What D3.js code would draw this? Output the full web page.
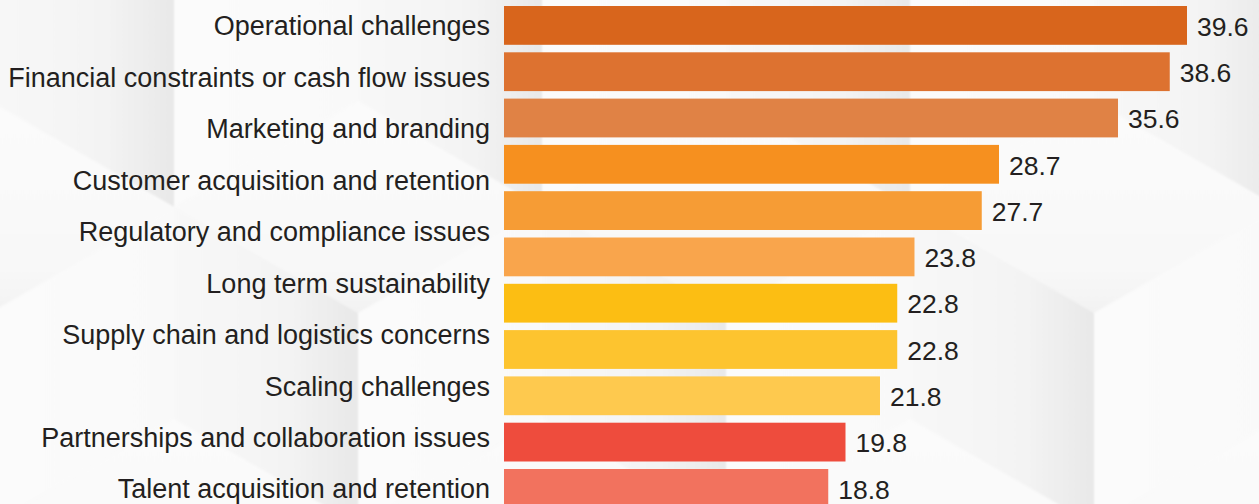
<!DOCTYPE html>
<html>
<head>
<meta charset="utf-8">
<script src="https://cdn.jsdelivr.net/npm/d3@7"></script>
<style>
  html, body { margin: 0; padding: 0; background: #f8f8f8; }
  svg { display: block; }
  text { font-family: "Liberation Sans", Arial, Helvetica, sans-serif; fill: #231f20; }
</style>
</head>
<body>
<svg id="chart" width="1259" height="504"></svg>
<script>
// Challenge categories (row labels)
const categories = [
  "Operational challenges",
  "Financial constraints or cash flow issues",
  "Marketing and branding",
  "Customer acquisition and retention",
  "Regulatory and compliance issues",
  "Long term sustainability",
  "Supply chain and logistics concerns",
  "Scaling challenges",
  "Partnerships and collaboration issues",
  "Talent acquisition and retention"
];

// Share of respondents per bar (%)
const values = [39.6, 38.6, 35.6, 28.7, 27.7, 23.8, 22.8, 22.8, 21.8, 19.8, 18.8];

// Bar fills, top to bottom
const barColors = [
  "#d8651c", "#dd7230", "#e08245", "#f6901f", "#f69c35", "#f9a54c",
  "#fcbe13", "#fdc42f", "#fec94e", "#ee4c3d", "#f2725e"
];

const svg = d3.select("#chart");
const defs = svg.append("defs");

// ---- isometric cube backdrop ----
function grad(id, x1, y1, x2, y2, stops) {
  const g = defs.append("linearGradient").attr("id", id)
    .attr("x1", x1).attr("y1", y1).attr("x2", x2).attr("y2", y2);
  stops.forEach(([o, c]) => g.append("stop").attr("offset", o).attr("stop-color", c));
}
grad("faceTop", 0, 0, 0, 1, [[0, "#fbfbfb"], [0.8, "#f8f8f8"], [1, "#f2f2f2"]]);
grad("faceLeft", 0, 0, 1, 0, [[0, "#f8f8f8"], [0.65, "#f3f3f3"], [1, "#e8e8e8"]]);
grad("faceRight", 0, 0, 1, 0, [[0, "#fbfbfb"], [1, "#f9f9f9"]]);
defs.append("filter").attr("id", "soft")
  .append("feGaussianBlur").attr("stdDeviation", 0.8);

const half = 184, rise = 106, edge = 212;
const corners = [];
for (let r = -1; r <= 2; r++) {
  for (let k = -1; k <= 4; k++) {
    corners.push([174 + half * (((r % 2) + 2) % 2) + 2 * half * k, -5 + 318 * r]);
  }
}
const bg = svg.append("g").attr("filter", "url(#soft)");
const line = d3.line();
corners.forEach(([cx, cy]) => {
  bg.append("path").attr("fill", "url(#faceTop)")
    .attr("d", line([[cx, cy], [cx - half, cy - rise], [cx, cy - 2 * rise], [cx + half, cy - rise]]) + "Z");
  bg.append("path").attr("fill", "url(#faceLeft)")
    .attr("d", line([[cx, cy], [cx - half, cy - rise], [cx - half, cy - rise + edge], [cx, cy + edge]]) + "Z");
  bg.append("path").attr("fill", "url(#faceRight)")
    .attr("d", line([[cx, cy], [cx + half, cy - rise], [cx + half, cy - rise + edge], [cx, cy + edge]]) + "Z");
});

// ---- scales ----
const x = d3.scaleLinear().domain([0, 39.6]).range([504, 1187]);
const yBar = d3.scaleBand()
  .domain(d3.range(values.length))
  .range([6, 507.8])
  .paddingInner(0.162)
  .paddingOuter(0);
const yLabel = d3.scalePoint().domain(categories).range([26, 489]);

// ---- bars ----
svg.append("g").selectAll("rect")
  .data(values)
  .join("rect")
  .attr("x", x(0))
  .attr("y", (d, i) => yBar(i))
  .attr("width", d => x(d) - x(0))
  .attr("height", yBar.bandwidth())
  .attr("fill", (d, i) => barColors[i]);

// ---- value labels ----
svg.append("g").selectAll("text")
  .data(values)
  .join("text")
  .attr("x", d => x(d) + 10)
  .attr("y", (d, i) => yBar(i) + yBar.bandwidth() / 2 + 1)
  .attr("dy", "0.35em")
  .attr("font-size", 26.5)
  .text(d => d.toFixed(1));

// ---- category labels ----
svg.append("g").selectAll("text")
  .data(categories)
  .join("text")
  .attr("x", 490)
  .attr("y", d => yLabel(d))
  .attr("dy", "0.35em")
  .attr("text-anchor", "end")
  .attr("font-size", 27)
  .text(d => d);
</script>
</body>
</html>
